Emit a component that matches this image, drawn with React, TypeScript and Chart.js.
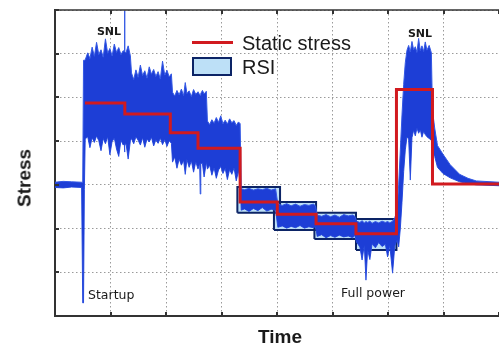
import React, { useEffect, useRef } from "react";
import { Chart, registerables } from "chart.js";

Chart.register(...registerables);

// ---- data (time units on x, stress units on y) ----
const sigT = [
  0, 1.5, 3.0, 4.8, 5.0, 5.15, 5.3, 5.45,
  5.9, 6.3, 6.7, 7.1, 7.5, 7.9, 8.3, 8.7, 9.1, 9.5, 9.9, 10.3, 10.7, 11.1, 11.5, 11.9, 12.3, 12.5, 12.55, 12.6, 12.8, 13.2, 13.6,
  13.8, 14.2, 14.6, 15.0, 15.4, 15.8, 16.2, 16.6, 17.0, 17.4, 17.8, 18.2, 18.6, 19.0, 19.4, 19.8, 20.2, 20.6, 21.0,
  21.2, 21.6, 22.0, 22.4, 22.8, 23.2, 23.5, 23.8, 24.2, 24.6, 25.0, 25.4, 25.8, 26.1, 26.2, 26.3, 26.6, 26.9, 27.3,
  27.5, 27.9, 28.3, 28.7, 29.1, 29.5, 29.9, 30.3, 30.7, 31.1, 31.5, 31.9, 32.3, 32.7, 33.1, 33.4, 33.6,
  34.2, 35.0, 35.8, 36.6, 37.4, 38.2, 39.0, 39.8,
  40.2, 41.0, 41.8, 42.6, 43.4, 44.2, 45.0, 45.8, 46.6, 47.0,
  47.3, 48.1, 48.9, 49.7, 50.5, 51.3, 52.1, 52.9, 53.7, 54.1,
  54.4, 55.0, 55.4, 55.8, 56.1, 56.4, 56.8, 57.2, 57.8, 58.4, 59.0, 59.6, 60.0, 60.4, 60.9, 61.3,
  61.7, 62.0, 62.3, 62.6, 62.9, 63.2, 63.5,
  63.8, 64.1, 64.4, 64.7, 65.0, 65.3, 65.6, 65.9, 66.2, 66.5, 66.8, 67.1, 67.5, 67.9,
  68.1, 68.5, 69.0, 70.0, 71.3, 73.0, 74.5, 76.0, 80.1,
];
const sigHi = [
  30.6, 30.8, 30.7, 30.6, 30.6, 58.5, 58.5, 58.6,
  60.2, 58.9, 61.5, 59.4, 62.6, 59.8, 60.9, 59.2, 63.4, 60.1, 61.2, 59.5, 62.2, 60.3, 61.4, 59.8, 60.7, 60.5, 69.8, 60.4, 60.2, 61.8, 59.5,
  55.6, 54.1, 56.3, 54.6, 57.4, 55.0, 56.1, 54.4, 57.0, 55.3, 56.4, 54.8, 55.9, 54.2, 58.3, 55.1, 56.2, 54.7, 55.4,
  51.2, 50.3, 51.6, 50.6, 51.9, 50.4, 53.4, 50.9, 51.5, 50.2, 51.8, 50.7, 51.3, 50.6, 50.5, 50.9, 51.6, 50.8, 51.4,
  44.6, 43.8, 44.9, 44.1, 45.4, 44.3, 45.8, 44.0, 44.8, 43.9, 45.1, 44.2, 44.7, 43.6, 44.4, 44.0, 29.1,
  28.9, 29.2, 28.8, 29.1, 28.9, 29.2, 28.8, 29.1,
  25.6, 25.3, 25.7, 25.2, 25.6, 25.1, 25.5, 25.3, 25.6, 25.2,
  23.1, 22.8, 23.2, 22.7, 23.1, 22.6, 23.2, 22.9, 23.1, 22.8,
  21.7, 21.4, 21.8, 21.3, 21.6, 21.4, 21.7, 21.2, 21.6, 21.3, 21.7, 21.4, 21.6, 21.3, 21.7, 22.5,
  24.0, 30.0, 38.0, 46.0, 53.0, 58.0, 60.8,
  61.9, 60.4, 62.8, 60.9, 61.6, 60.3, 63.5, 60.7, 61.8, 60.5, 62.7, 60.8, 61.9, 60.2,
  47.0, 43.0, 39.0, 37.0, 34.6, 32.4, 31.5, 30.9, 30.6,
];
const sigLo = [
  29.4, 29.3, 29.5, 29.4, 3.0, 3.0, 29.0, 40.5,
  41.0, 38.5, 40.8, 39.7, 41.2, 40.1, 37.8, 40.6, 39.4, 41.0, 36.9, 39.9, 40.7, 38.2, 36.5, 40.2, 39.1, 39.4, 37.5, 39.0, 39.6, 35.9, 40.1,
  40.6, 39.4, 41.0, 40.2, 39.1, 40.8, 38.6, 40.5, 39.8, 40.9, 38.9, 40.3, 39.5, 40.7, 39.2, 40.4, 38.8, 40.1, 39.5,
  35.2, 36.4, 33.8, 35.9, 34.5, 35.6, 32.4, 35.8, 34.0, 35.5, 32.9, 35.3, 33.6, 34.9, 27.9, 35.0, 34.8, 31.8, 35.1,
  33.6, 34.5, 32.2, 33.9, 31.5, 33.4, 34.2, 32.6, 33.8, 31.2, 33.5, 32.4, 33.9, 30.9, 33.2, 30.5, 24.2,
  24.5, 23.9, 24.6, 24.1, 24.8, 24.0, 24.4, 24.2,
  20.3, 20.6, 20.1, 20.5, 20.2, 20.7, 20.1, 20.4, 20.2, 20.5,
  18.2, 18.6, 17.9, 18.4, 18.0, 18.5, 18.1, 18.3, 17.9, 18.4,
  16.9, 15.8, 12.8, 16.2, 8.2, 15.1, 12.9, 16.5, 15.6, 16.8, 15.9, 16.4, 13.5, 16.1, 9.8, 16.0,
  17.5, 15.8, 20.0, 26.0, 33.0, 38.0, 41.0,
  40.5, 31.1, 40.8, 42.5, 41.2, 43.0, 41.8, 42.6, 40.9, 42.2, 41.5, 41.0, 40.6, 40.2,
  38.0, 36.5, 34.0, 32.6, 31.6, 30.7, 30.3, 30.0, 29.8,
];

const staticT = [5.4, 12.6, 20.8, 25.8, 33.4, 40.1, 47.1, 54.3, 61.6, 68.1, 80.1];
const staticStress = [48.7, 46.2, 41.9, 38.4, 26.1, 23.3, 21.1, 18.8, 51.8, 30.2, 30.2];

const rsiStart = [32.9, 39.5, 46.8, 54.3];
const rsiEnd = [40.6, 47.1, 54.3, 61.6];
const rsiLow = [23.6, 19.7, 17.6, 15.1];
const rsiHigh = [29.5, 26.1, 23.6, 22.2];

const xMax = 80.1;
const yMax = 70;
const gridStep = 10;

const seriesLabels = ["Static stress", "RSI"];

const framePlugin = {
  id: "frame",
  afterDatasetsDraw(chart: any) {
    const { ctx, chartArea: a, scales } = chart;
    const x = scales.x;
    const y = scales.y;
    ctx.save();
    ctx.strokeStyle = "#333";
    ctx.lineWidth = 1.5;
    ctx.beginPath();
    ctx.moveTo(a.left, a.top);
    ctx.lineTo(a.right, a.top);
    ctx.stroke();
    ctx.lineWidth = 2;
    ctx.beginPath();
    x.ticks.forEach((t: any) => {
      const px = Math.round(x.getPixelForValue(t.value));
      ctx.moveTo(px, a.bottom);
      ctx.lineTo(px, a.bottom - 4);
      ctx.moveTo(px, a.top);
      ctx.lineTo(px, a.top + 4);
    });
    y.ticks.forEach((t: any) => {
      const py = Math.round(y.getPixelForValue(t.value));
      ctx.moveTo(a.left, py);
      ctx.lineTo(a.left + 4, py);
    });
    ctx.stroke();
    ctx.restore();
  },
};

const FONT = "'Liberation Sans', Arial, sans-serif";
const FONT2 = "'DejaVu Sans', Verdana, sans-serif";

function Label(props: any) {
  const { x, y, text, size, bold, left, rotate, family } = props;
  return (
    <div
      style={{
        position: "absolute",
        left: x,
        top: y,
        transform: `translate(${left ? "0" : "-50%"}, -50%)${rotate ? " rotate(-90deg)" : ""}`,
        fontSize: size,
        fontWeight: bold ? 700 : 400,
        fontFamily: family || FONT,
        lineHeight: 1,
        whiteSpace: "nowrap",
        color: "#1a1a1a",
      }}
    >
      {text}
    </div>
  );
}

export default function App() {
  const ref = useRef<HTMLCanvasElement>(null);
  useEffect(() => {
    const canvas = ref.current;
    if (!canvas) return;
    const datasets: any[] = [];
    rsiStart.forEach((s, i) => {
      datasets.push({
        label: "rsi-fill",
        data: [
          { x: s, y: rsiHigh[i] },
          { x: rsiEnd[i], y: rsiHigh[i] },
        ],
        fill: { value: rsiLow[i] },
        backgroundColor: "#bde0f7",
        borderWidth: 0,
        pointRadius: 0,
        order: 10,
      });
    });
    rsiStart.forEach((s, i) => {
      datasets.push({
        label: seriesLabels[1],
        data: [
          { x: s, y: rsiLow[i] },
          { x: s, y: rsiHigh[i] },
          { x: rsiEnd[i], y: rsiHigh[i] },
          { x: rsiEnd[i], y: rsiLow[i] },
          { x: s, y: rsiLow[i] },
        ],
        borderColor: "#0c2466",
        borderWidth: 2,
        borderJoinStyle: "miter",
        fill: false,
        pointRadius: 0,
        order: 8,
      });
    });
    datasets.push({
      label: "signal-hi",
      data: sigT.map((t, i) => ({ x: t, y: sigHi[i] })),
      borderColor: "#3358e4",
      borderWidth: 1,
      backgroundColor: "#1d3ed6",
      fill: "+1",
      pointRadius: 0,
      order: 5,
    });
    datasets.push({
      label: "signal-lo",
      data: sigT.map((t, i) => ({ x: t, y: sigLo[i] })),
      borderColor: "#3358e4",
      borderWidth: 1,
      fill: false,
      pointRadius: 0,
      order: 5,
    });
    datasets.push({
      label: seriesLabels[0],
      data: staticT.map((t, i) => ({ x: t, y: staticStress[i] })),
      stepped: true,
      borderColor: "#d11a1f",
      borderWidth: 3,
      fill: false,
      pointRadius: 0,
      order: 1,
    });

    const gridOpts = { color: "#9a9a9a", lineWidth: 1, drawTicks: false };
    const chart = new Chart(canvas, {
      type: "line",
      data: { datasets },
      options: {
        responsive: false,
        animation: false,
        events: [],
        layout: { padding: { left: 55, top: 10, right: 0, bottom: 28 } },
        plugins: {
          legend: { display: false },
          tooltip: { enabled: false },
        },
        scales: {
          x: {
            type: "linear",
            min: 0,
            max: xMax,
            ticks: { display: false, stepSize: gridStep, includeBounds: false },
            grid: gridOpts,
            border: { display: true, color: "#333", width: 2, dash: [1.5, 2.5] },
          },
          y: {
            type: "linear",
            min: 0,
            max: yMax,
            ticks: { display: false, stepSize: gridStep, includeBounds: false },
            grid: gridOpts,
            border: { display: true, color: "#333", width: 2, dash: [1.5, 2.5] },
          },
        },
      } as any,
      plugins: [framePlugin],
    });
    return () => chart.destroy();
  }, []);

  return (
    <div
      style={{
        position: "absolute",
        left: 0,
        top: 0,
        width: 499,
        height: 344,
        background: "#fff",
        overflow: "hidden",
      }}
    >
      <canvas ref={ref} width={499} height={344} style={{ position: "absolute", left: 0, top: 0 }} />
      {/* legend */}
      <div style={{ position: "absolute", left: 192, top: 41, width: 41, height: 3, background: "#d11a1f" }} />
      <div
        style={{
          position: "absolute",
          left: 192,
          top: 57,
          width: 40,
          height: 19,
          boxSizing: "border-box",
          border: "2px solid #0c2466",
          background: "#bde0f7",
        }}
      />
      <Label x={242} y={43} text={seriesLabels[0]} size={20} left />
      <Label x={242} y={67} text={seriesLabels[1]} size={20} left />
      {/* annotations */}
      <Label x={109} y={31} text="SNL" size={11} bold family={FONT2} />
      <Label x={420} y={33} text="SNL" size={11} bold family={FONT2} />
      <Label x={88} y={295} text="Startup" size={12.5} left family={FONT2} />
      <Label x={341} y={293} text="Full power" size={12.5} left family={FONT2} />
      {/* axis titles */}
      <Label x={280} y={336} text="Time" size={19} bold />
      <Label x={24} y={178} text="Stress" size={19} bold rotate />
    </div>
  );
}
